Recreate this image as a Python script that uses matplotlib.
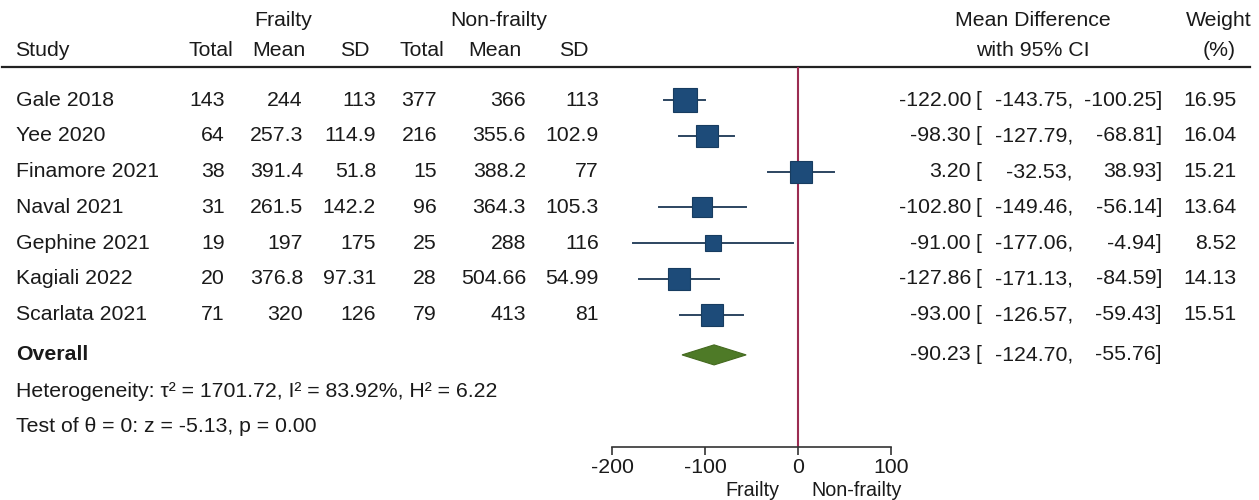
import matplotlib
matplotlib.use("Agg")
import matplotlib.pyplot as plt
from matplotlib.patches import Polygon

plt.rcParams['font.family'] = ['Liberation Sans', 'DejaVu Sans']

# ---------------- data ----------------
studies = ["Gale 2018", "Yee 2020", "Finamore 2021", "Naval 2021",
           "Gephine 2021", "Kagiali 2022", "Scarlata 2021"]
f_total = [143, 64, 38, 31, 19, 20, 71]
f_mean = [244, 257.3, 391.4, 261.5, 197, 376.8, 320]
f_sd = [113, 114.9, 51.8, 142.2, 175, 97.31, 126]
n_total = [377, 216, 15, 96, 25, 28, 79]
n_mean = [366, 355.6, 388.2, 364.3, 288, 504.66, 413]
n_sd = [113, 102.9, 77, 105.3, 116, 54.99, 81]
md = [-122.00, -98.30, 3.20, -102.80, -91.00, -127.86, -93.00]
ci_lo = [-143.75, -127.79, -32.53, -149.46, -177.06, -171.13, -126.57]
ci_hi = [-100.25, -68.81, 38.93, -56.14, -4.94, -84.59, -59.43]
weight = [16.95, 16.04, 15.21, 13.64, 8.52, 14.13, 15.51]
overall_md, overall_lo, overall_hi = -90.23, -124.70, -55.76
xticks = [-200, -100, 0, 100]
het_text = "Heterogeneity: τ² = 1701.72, I² = 83.92%, H² = 6.22"
test_text = "Test of θ = 0: z = -5.13, p = 0.00"

# ---------------- layout ----------------
W, H = 1259, 500
ROW0, DY = 100, 35.8
FS = 15.3
TXT = "#1a1a1a"

def ypix(i):
    return ROW0 + DY * i

fig = plt.figure(figsize=(W / 100, H / 100), dpi=100)

# text axes in pixel coordinates
tx = fig.add_axes([0, 0, 1, 1])
tx.set_xlim(0, W)
tx.set_ylim(H, 0)
tx.axis("off")

# forest axes
x_left, x_right = 612, 891
y_top, y_bot = 67, 447
fx = fig.add_axes([x_left / W, 1 - y_bot / H, (x_right - x_left) / W, (y_bot - y_top) / H])
fx.patch.set_alpha(0)
fx.set_xlim(-200, 100)
fx.set_ylim((y_bot - ROW0) / DY, (y_top - ROW0) / DY)
for s in ["left", "right", "top"]:
    fx.spines[s].set_visible(False)
fx.spines["bottom"].set_color("#333333")
fx.spines["bottom"].set_linewidth(1.2)
fx.set_yticks([])
fx.set_xticks(xticks)
fx.set_xticklabels([str(t) for t in xticks], fontsize=FS, color=TXT)
fx.tick_params(axis="x", direction="out", length=6, width=1.2, color="#333333", pad=2)

# reference line at zero
fx.axvline(0, color="#9b2c52", lw=1.5, zorder=1)

# study CIs and squares
sq_color = "#1d4b79"
line_color = "#2c4560"
for i in range(len(studies)):
    fx.plot([ci_lo[i], ci_hi[i]], [i, i], color=line_color, lw=1.4, zorder=2)
    ms = 16.8 * (weight[i] / 16.95) ** 0.5
    fx.plot(md[i], i, marker="s", ms=ms, mfc=sq_color, mec="#173c60", mew=0.8, zorder=3)

# overall diamond
i_ov = 7.12
hh = 0.28
diamond = Polygon([[overall_lo, i_ov], [overall_md, i_ov - hh], [overall_hi, i_ov], [overall_md, i_ov + hh]],
                  closed=True, facecolor="#4e7a27", edgecolor="#44691f", lw=0.8, zorder=3)
fx.add_patch(diamond)

# ---------------- header ----------------
header_line_y = 67
tx.plot([2, 1250], [header_line_y, header_line_y], color="#222222", lw=1.6)

y_h1, y_h2 = 20, 50
tx.text(283, y_h1, "Frailty", ha="center", va="center", fontsize=FS, color=TXT)
tx.text(499, y_h1, "Non-frailty", ha="center", va="center", fontsize=FS, color=TXT)
tx.text(15, y_h2, "Study", ha="left", va="center", fontsize=FS, color=TXT)
for x, lab in [(233, "Total"), (306, "Mean"), (370, "SD"), (444, "Total"), (522, "Mean"), (589, "SD")]:
    tx.text(x, y_h2, lab, ha="right", va="center", fontsize=FS, color=TXT)
tx.text(1033, y_h1, "Mean Difference", ha="center", va="center", fontsize=FS, color=TXT)
tx.text(1033, y_h2, "with 95% CI", ha="center", va="center", fontsize=FS, color=TXT)
tx.text(1219, y_h1, "Weight", ha="center", va="center", fontsize=FS, color=TXT)
tx.text(1219, y_h2, "(%)", ha="center", va="center", fontsize=FS, color=TXT)

# ---------------- table rows ----------------
cols = [(225, f_total), (303, f_mean), (376, f_sd), (437, n_total), (526, n_mean), (599, n_sd)]
for i, name in enumerate(studies):
    y = ypix(i)
    tx.text(16, y, name, ha="left", va="center", fontsize=FS, color=TXT)
    for x, vals in cols:
        tx.text(x, y, f"{vals[i]:g}", ha="right", va="center", fontsize=FS, color=TXT)
    tx.text(971, y, f"{md[i]:.2f}", ha="right", va="center", fontsize=FS, color=TXT)
    tx.text(976, y, "[", ha="left", va="center", fontsize=FS, color=TXT)
    tx.text(1073, y, f"{ci_lo[i]:.2f},", ha="right", va="center", fontsize=FS, color=TXT)
    tx.text(1162, y, f"{ci_hi[i]:.2f}]", ha="right", va="center", fontsize=FS, color=TXT)
    tx.text(1237, y, f"{weight[i]:.2f}", ha="right", va="center", fontsize=FS, color=TXT)

y = ypix(i_ov)
tx.text(16, y, "Overall", ha="left", va="center", fontsize=FS, color=TXT, fontweight="bold")
tx.text(971, y, f"{overall_md:.2f}", ha="right", va="center", fontsize=FS, color=TXT)
tx.text(976, y, "[", ha="left", va="center", fontsize=FS, color=TXT)
tx.text(1073, y, f"{overall_lo:.2f},", ha="right", va="center", fontsize=FS, color=TXT)
tx.text(1162, y, f"{overall_hi:.2f}]", ha="right", va="center", fontsize=FS, color=TXT)

tx.text(16, ypix(8.13), het_text, ha="left", va="center", fontsize=FS, color=TXT)
tx.text(16, ypix(9.13), test_text, ha="left", va="center", fontsize=FS, color=TXT)

# axis side labels
tx.text(752, 490, "Frailty", ha="center", va="center", fontsize=14.2, color=TXT)
tx.text(857, 490, "Non-frailty", ha="center", va="center", fontsize=14.2, color=TXT)

fig.savefig("out.png", dpi=100)
